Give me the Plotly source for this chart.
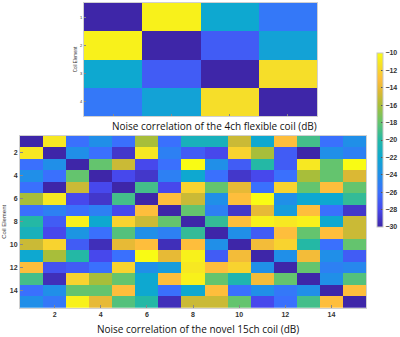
import plotly.graph_objects as go

W, H = 400, 337

coils4 = [1, 2, 3, 4]
noise4 = [
    [-30, -10.5, -22, -25.5],
    [-10.5, -30, -27, -22.5],
    [-22, -27, -30, -11.5],
    [-25.5, -22.5, -11.5, -30],
]

coils15 = list(range(1, 16))
noise15 = [
    [-30, -11, -26, -24, -26, -16, -26, -21, -21, -15, -22, -13, -19, -26, -24],
    [-11, -30, -24, -26, -29, -11, -25, -27, -28, -12, -16, -27, -30, -24, -25],
    [-26, -24, -30, -18, -15, -28, -26, -10, -24, -27, -20, -27, -11, -18, -10],
    [-24, -26, -18, -30, -28, -29, -25, -22, -26, -29, -28, -26, -16, -18, -14.5],
    [-26, -30, -15, -28, -30, -19, -28, -12, -18, -14, -26, -12, -18, -13, -18],
    [-16, -11, -28, -29, -19, -30, -13, -15, -24, -13, -10, -24, -22, -22, -19.5],
    [-26, -25, -26, -25, -28, -13, -30, -18, -25, -29, -14, -23, -13, -26, -29],
    [-20, -27, -10.5, -22, -12, -15, -18, -30, -19.5, -13, -10.5, -11, -10.5, -22, -15],
    [-21, -28, -23.5, -26, -18.5, -24, -25, -19.5, -30, -24, -27, -13, -18, -13, -15],
    [-15, -12, -27, -29.5, -14, -13, -29.5, -13, -24, -30, -13.5, -12, -20, -26, -18],
    [-22, -16, -20, -28, -26, -10, -14, -10.5, -27, -13.5, -30, -24, -13.5, -24, -27],
    [-13, -27.5, -27, -26, -12, -24, -23, -11, -13, -12, -24, -30, -18, -25, -24.5],
    [-19, -29.5, -12, -16, -18, -22, -13, -10.5, -18, -20.5, -13.5, -18, -30, -24, -18.5],
    [-26, -24, -18, -18, -13, -22, -26, -22, -13, -26, -24, -25.5, -24, -30, -13],
    [-24, -25.5, -10.5, -14, -18.5, -20, -29.5, -15, -15, -18, -28, -26, -19, -13, -30],
]

cbar_ticks = [-30, -28, -26, -24, -22, -20, -18, -16, -14, -12, -10]
ticks15 = [2, 4, 6, 8, 10, 12, 14]

title_top = "Noise correlation of the 4ch flexible coil (dB)"
title_bottom = "Noise correlation of the novel 15ch coil (dB)"
axis_label = "Coil Element"

parula = [
    [0.00, "rgb(62,38,168)"],
    [0.10, "rgb(71,72,236)"],
    [0.20, "rgb(58,112,253)"],
    [0.30, "rgb(32,143,232)"],
    [0.40, "rgb(14,168,208)"],
    [0.50, "rgb(36,184,165)"],
    [0.60, "rgb(100,196,110)"],
    [0.70, "rgb(168,190,58)"],
    [0.78, "rgb(222,184,52)"],
    [0.85, "rgb(254,190,60)"],
    [0.92, "rgb(246,220,42)"],
    [1.00, "rgb(249,251,20)"],
]

def px_x(a, b):
    return [a / W, b / W]

def px_y(top, bottom):
    return [1 - bottom / H, 1 - top / H]

fig = go.Figure()

fig.add_trace(go.Heatmap(
    z=noise4, x=coils4, y=coils4, zmin=-30, zmax=-10,
    colorscale=parula, showscale=False, xaxis="x", yaxis="y",
))

fig.add_trace(go.Heatmap(
    z=noise15, x=coils15, y=coils15, zmin=-30, zmax=-10,
    colorscale=parula, xaxis="x2", yaxis="y2",
    colorbar=dict(
        x=377 / W, xanchor="left", xpad=0, ypad=0,
        y=1 - 140 / H, yanchor="middle", len=174 / H, lenmode="fraction",
        thickness=6, outlinewidth=1, outlinecolor="#c8c8c8",
        tickvals=cbar_ticks, ticks="inside", ticklen=2, tickcolor="#555",
        tickfont=dict(family="Liberation Sans", size=7, color="#333", weight="bold"),
    ),
))

tickfont_small = dict(family="Liberation Sans", size=4, color="#333")
tickfont_b = dict(family="Liberation Sans", size=7, color="#333", weight="bold")

fig.update_layout(
    width=W, height=H,
    margin=dict(l=0, r=0, t=0, b=0, autoexpand=False),
    paper_bgcolor="white", plot_bgcolor="white",
    showlegend=False,
    xaxis=dict(domain=px_x(84, 317), anchor="y", showticklabels=False,
               ticks="inside", ticklen=2, tickcolor="#888", tickvals=coils4,
               showgrid=False, zeroline=False, showline=True, mirror=True,
               linecolor="#d0d0d0", linewidth=1),
    yaxis=dict(domain=px_y(3, 116), anchor="x", autorange="reversed",
               tickvals=coils4, ticks="inside", ticklen=2, tickcolor="#888",
               tickfont=tickfont_small, showgrid=False, zeroline=False,
               showline=True, mirror=True, linecolor="#d0d0d0", linewidth=1,
               title=dict(text=axis_label, font=dict(family="Liberation Sans", size=4.5, color="#333"), standoff=2)),
    xaxis2=dict(domain=px_x(20, 366), anchor="y2", tickvals=ticks15,
                ticks="inside", ticklen=3, tickcolor="#888", tickfont=tickfont_b,
                showgrid=False, zeroline=False, showline=True, mirror=True,
                linecolor="#d0d0d0", linewidth=1),
    yaxis2=dict(domain=px_y(135.7, 308), anchor="x2", autorange="reversed",
                tickvals=ticks15, ticks="inside", ticklen=3, tickcolor="#888",
                tickfont=tickfont_b, showgrid=False, zeroline=False,
                showline=True, mirror=True, linecolor="#d0d0d0", linewidth=1,
                title=dict(text=axis_label, font=dict(family="Liberation Sans", size=6, color="#333"), standoff=2)),
    annotations=[
        dict(text=title_top, xref="paper", yref="paper", x=214 / W, y=1 - 126 / H,
             xanchor="center", yanchor="middle", showarrow=False,
             font=dict(family="Open Sans", size=10, color="#111")),
        dict(text=title_bottom, xref="paper", yref="paper", x=198 / W, y=1 - 329 / H,
             xanchor="center", yanchor="middle", showarrow=False,
             font=dict(family="Open Sans", size=10, color="#111")),
    ],
)

fig.write_html(
    "out.html",
    config={"displayModeBar": False},
    post_script="document.body.style.margin='0';document.body.style.overflow='hidden';",
)
